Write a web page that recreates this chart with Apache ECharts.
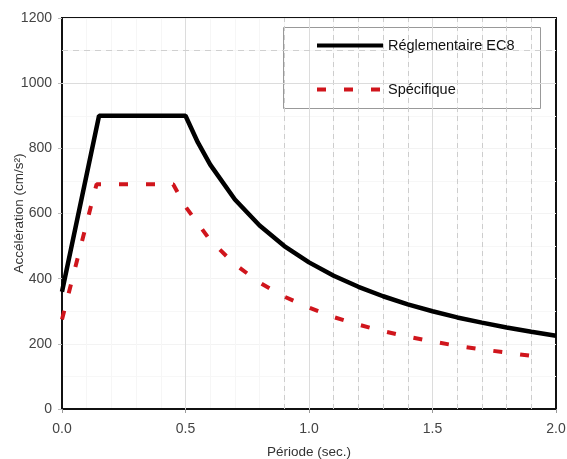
<!DOCTYPE html>
<html>
<head>
<meta charset="utf-8">
<script src="https://cdn.jsdelivr.net/npm/echarts@6/dist/echarts.min.js"></script>
<style>html,body{margin:0;padding:0;background:#fff}#c{width:567px;height:459px}</style>
</head>
<body>
<div id="c"></div>
<script>
var seriesNames = ['Réglementaire EC8', 'Spécifique'];
var ec8T   = [0, 0.15, 0.5, 0.55, 0.6, 0.7, 0.8, 0.9, 1.0, 1.1, 1.2, 1.3, 1.4, 1.5, 1.6, 1.7, 1.8, 1.9, 2.0];
var ec8A   = [360, 900, 900, 818, 750, 643, 563, 500, 450, 409, 375, 346, 321, 300, 281, 265, 250, 237, 225];
var specT  = [0, 0.14, 0.45, 0.5, 0.6, 0.7, 0.8, 0.9, 1.0, 1.1, 1.2, 1.3, 1.4, 1.5, 1.6, 1.7, 1.8, 1.9, 1.95];
var specA  = [275, 690, 690, 621, 518, 444, 388, 345, 311, 282, 259, 239, 222, 207, 194, 183, 173, 163, 159];
var dashedGridX = [0.9, 1.1, 1.2, 1.3, 1.4, 1.6, 1.7, 1.8, 1.9];
var solidGridX = [0.5, 1.0, 1.5];
var dashedGridY = [1100];
var solidGridY = [1000];

function pairs(xs, ys){ return xs.map(function(x,i){return [x, ys[i]];}); }

var chart = echarts.init(document.getElementById('c'), null, {renderer:'canvas'});
var font = 'Liberation Sans, Arial, sans-serif';
var markLines = [];
dashedGridX.forEach(function(v){ markLines.push({xAxis:v, lineStyle:{type:[5,4], color:'#cdcdcd', width:1}}); });
solidGridX.forEach(function(v){ markLines.push({xAxis:v, lineStyle:{type:'solid', color:'#dcdcdc', width:1}}); });
dashedGridY.forEach(function(v){ markLines.push({yAxis:v, lineStyle:{type:[6,5], color:'#d0d0d0', width:1}}); });
solidGridY.forEach(function(v){ markLines.push({yAxis:v, lineStyle:{type:'solid', color:'#dcdcdc', width:1}}); });

chart.setOption({
  animation:false,
  backgroundColor:'#fff',
  grid:{left:62, right:11, top:18, bottom:50, containLabel:false, outerBoundsMode:'none',
        show:true, borderColor:'#111', borderWidth:2, backgroundColor:'transparent'},
  xAxis:{
    type:'value', min:0, max:2, interval:0.5,
    name:'Période (sec.)', nameLocation:'middle', nameGap:36, nameMoveOverlap:false,
    nameTextStyle:{fontFamily:font, fontSize:13.5, color:'#333'},
    axisLine:{show:true, onZero:false, lineStyle:{color:'#111', width:2}},
    axisTick:{show:true, length:4, lineStyle:{color:'#999'}},
    axisLabel:{margin:13, fontFamily:font, fontSize:14, color:'#444', formatter:function(v){return v.toFixed(1);}},
    splitLine:{show:false},
    minorTick:{show:false, splitNumber:5},
    minorSplitLine:{show:true, lineStyle:{color:'#f6f6f6'}}
  },
  yAxis:{
    type:'value', min:0, max:1200, interval:200,
    name:'Accélération (cm/s²)', nameLocation:'middle', nameGap:36, nameMoveOverlap:false,
    nameTextStyle:{fontFamily:font, fontSize:13.5, color:'#333'},
    axisLine:{show:true, lineStyle:{color:'#111', width:2}},
    axisTick:{show:true, length:4, lineStyle:{color:'#bbb'}},
    axisLabel:{margin:10, fontFamily:font, fontSize:14, color:'#444', formatter:function(v){return String(v);}},
    splitLine:{show:true, lineStyle:{color:'#f3f3f3'}},
    minorTick:{show:false, splitNumber:2},
    minorSplitLine:{show:true, lineStyle:{color:'#f7f7f7'}}
  },
  legend:{
    orient:'vertical', left:315, top:38, padding:0, itemWidth:66, itemHeight:14, itemGap:29,
    itemStyle:{opacity:0},
    lineStyle:{width:4},
    textStyle:{fontFamily:font, fontSize:14.5, color:'#111'},
    data:seriesNames
  },
  graphic:[{type:'rect', left:283, top:27, shape:{width:257, height:81}, style:{fill:'#fff', stroke:'#999', lineWidth:1}, z:0, zlevel:0}],
  series:[
    {name:seriesNames[0], type:'line', data:pairs(ec8T, ec8A), smooth:false, symbol:'none', showSymbol:false,
     lineStyle:{color:'#000', width:4.5}, itemStyle:{color:'#000'}, z:5,
     markLine:{silent:true, symbol:'none', label:{show:false}, data:markLines, z:1}},
    {name:seriesNames[1], type:'line', data:pairs(specT, specA), smooth:false, symbol:'none', showSymbol:false,
     lineStyle:{color:'#d0151c', width:4, type:[9,18]}, itemStyle:{color:'#d0151c'}, z:6}
  ]
});
</script>
</body>
</html>
